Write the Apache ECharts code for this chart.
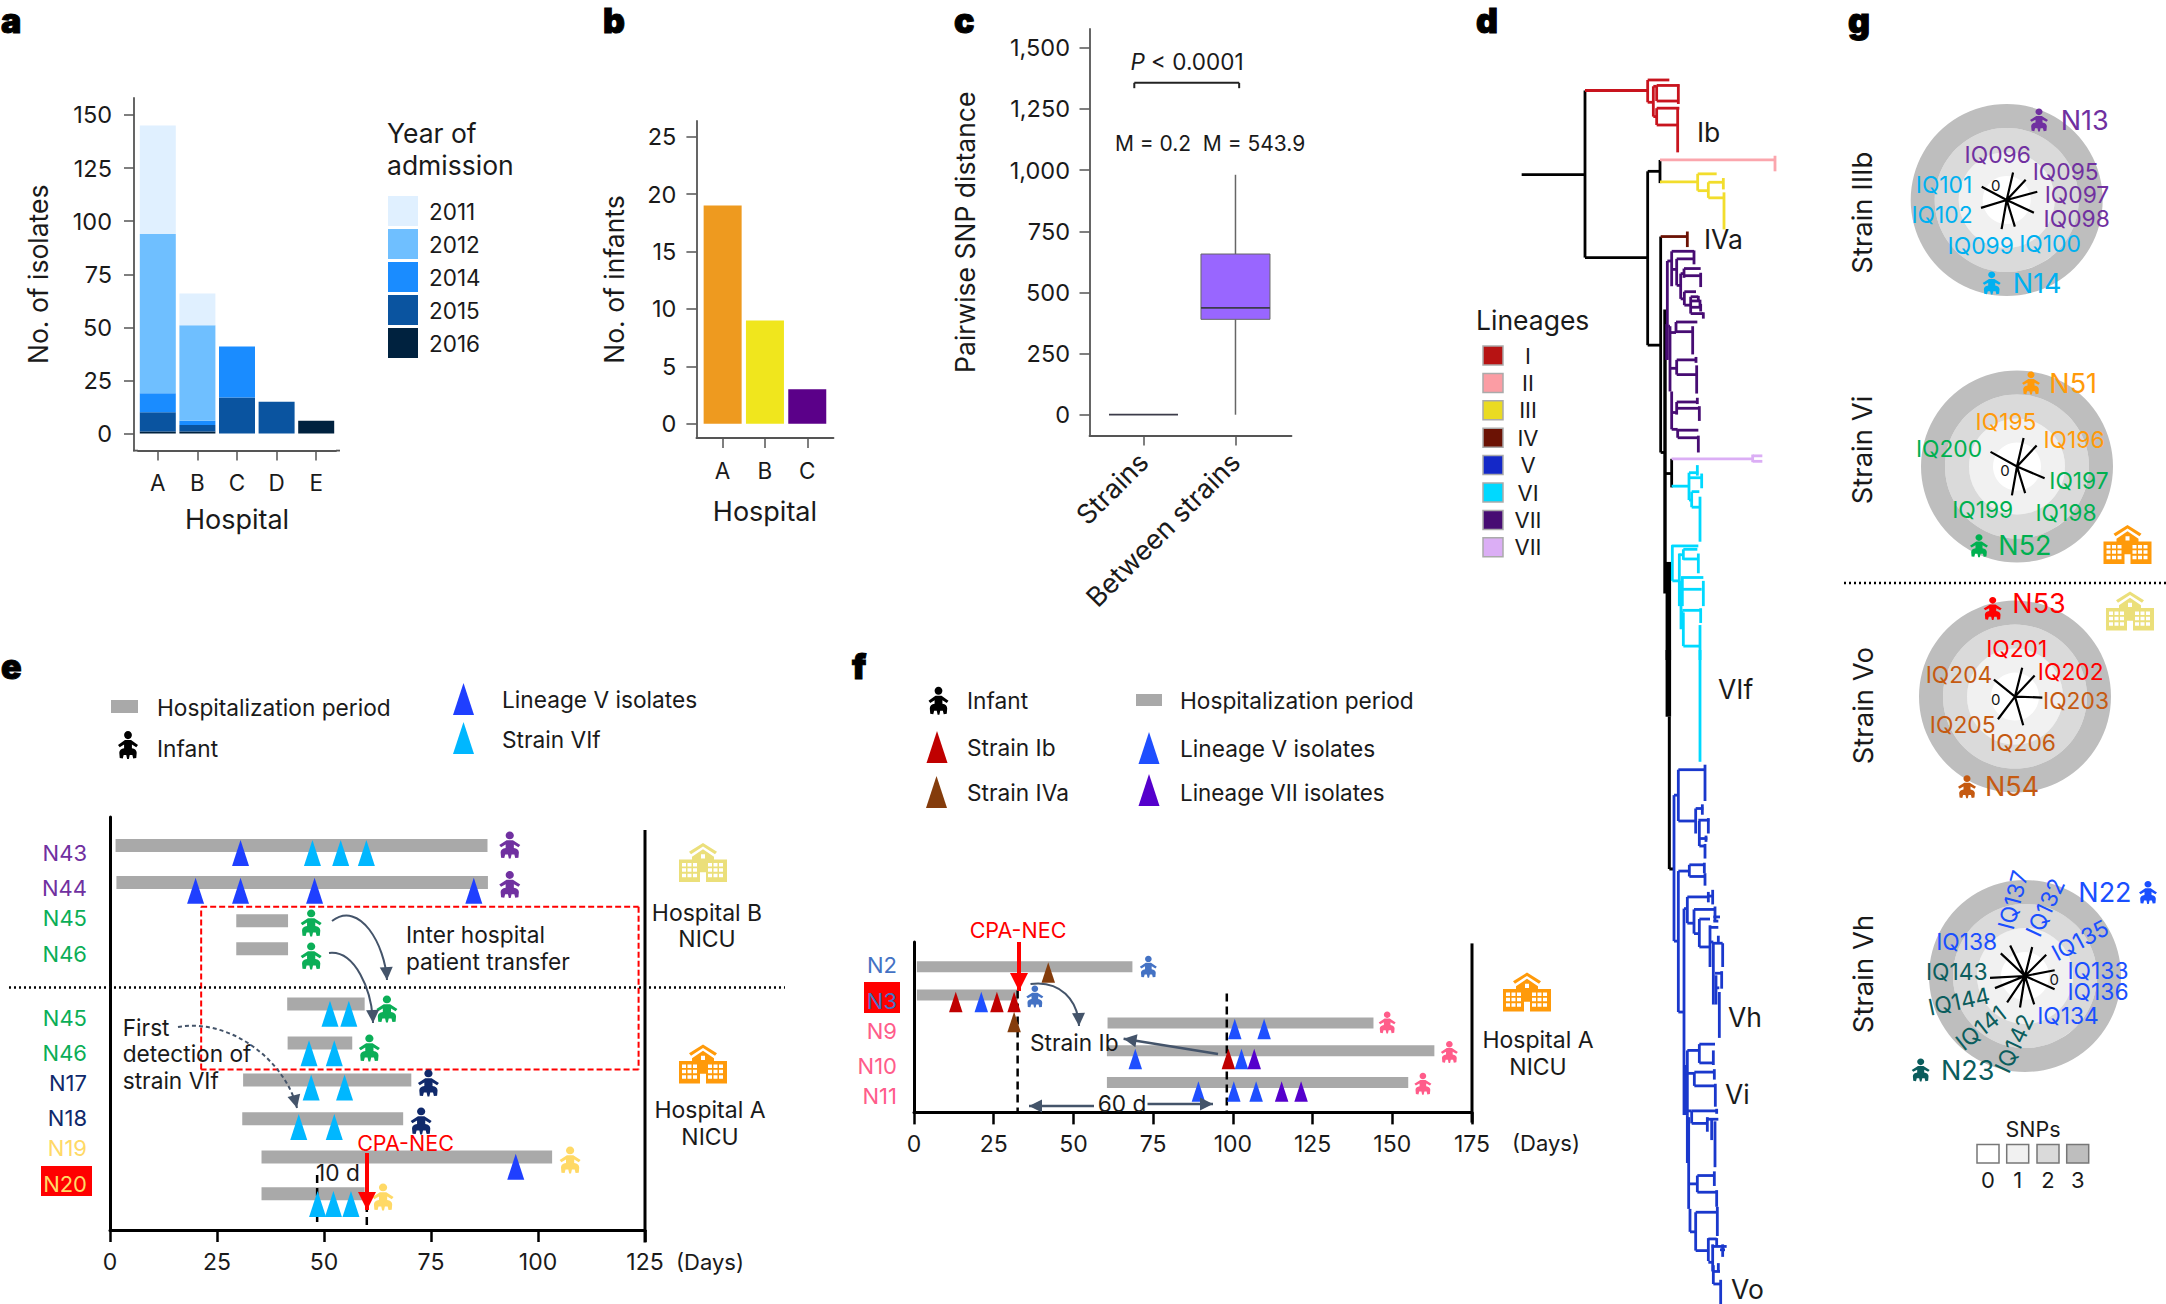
<!DOCTYPE html>
<html><head><meta charset="utf-8">
<style>html,body{margin:0;padding:0;background:#fff}#c{width:2166px;height:1304px}</style>
<script src="https://cdn.jsdelivr.net/npm/echarts@6/dist/echarts.min.js"></script>
</head><body><div id="c"></div>
<script>
// ---------- panel a ----------
const hospitalsA=['A','B','C','D','E'];
const years=['2011','2012','2014','2015','2016'];
const isolates2016=[1,1,0,0,6];
const isolates2015=[9,3,17,15,0];
const isolates2014=[9,2,24,0,0];
const isolates2012=[75,45,0,0,0];
const isolates2011=[51,15,0,0,0];
const ticksA=[0,25,50,75,100,125,150];
// ---------- panel b ----------
const hospitalsB=['A','B','C'];
const infantsB=[19,9,3];
const ticksB=[0,5,10,15,20,25];
// ---------- panel c ----------
const groupsC=['Strains','Between strains'];
const boxStrains=[0,0,0,0,0];       // min,q1,median,q3,max
const boxBetween=[0,390,437,657,981];
const ticksC=[0,250,500,750,1000,1250,1500];
// ---------- panel e ----------
const eDays=[0,25,50,75,100,125];
const eBars=[[1.3,88.2,384.6],[1.5,88.3,347.5],[29.5,41.6,309.2],[29.5,41.6,281.2],[41.4,59.5,226],[41.5,56.6,187],[31.1,70.4,150],[30.9,68.5,111.2],[35.4,103.3,73],[35.4,59.5,36.2]];
const eLineageV=[[30.5,377],[20,339.2],[30.5,339.2],[47.8,339.2],[85,339.2],[94.8,63.3]];
const eStrainVIf=[[47.3,377],[53.9,377],[59.9,377],[51.4,216.2],[55.8,216.2],[46.5,176.7],[52.4,176.7],[47,142.5],[54.8,142.5],[44.1,103],[52.4,103],[48.5,26],[52.2,26],[56.3,26]];
const eInfants=[[93.4,385,'#7030a0'],[93.4,345.4,'#7030a0'],[47,307,'#0bae57'],[47,274,'#0bae57'],[64.7,221,'#0bae57'],[60.6,182,'#0bae57'],[74.4,147,'#10296b'],[72.7,109,'#10296b'],[107.5,70,'#ffd966'],[63.8,33,'#ffd966']];
// ---------- panel f ----------
const fDays=[0,25,50,75,100,125,150,175];
const fBars=[[0.9,68.5,145.7],[0.9,32.6,117.4],[60.7,144.1,89.4],[60.5,163.2,61.7],[60.5,155,29.9]];
const fStrainIb=[[13.1,110.4],[26,110.4],[31.4,110.4],[98.6,53.4]];
const fStrainIVa=[[42.1,140],[31.4,90.4]];
const fLineageV=[[21.1,110.4],[100.6,83.4],[109.8,83.4],[69.4,53.4],[102.7,53.4],[89.2,20.9],[100.3,20.9],[107.3,20.9]];
const fLineageVII=[[106.7,53.4],[115.3,20.9],[121.4,20.9]];
const fInfants=[[73.5,145.7,'#4472c4'],[37.9,115.8,'#4472c4'],[148.4,89.9,'#ff5c8a'],[167.9,60.4,'#ff5c8a'],[159.6,28.6,'#ff5c8a']];
// ---------- panel d, branches [x1,y1,x2,y2] ----------
const treeRootUpper=[[215,415,405,415],[405,215,405,612],[405,612,593,612],[593,407,593,820],[593,407,630,407],[630,380,630,435],[593,820,632,820],[632,562,632,1075],[632,1075,645,1075],[645,1125,665,1125],[665,1090,665,1158]];
const treeTrunkThin=[[645,735,645,1410]];
const treeTrunkThickUpper=[[655,1335,655,1568]];
const treeI=[[405,215,593,215],[593,190,593,243],[593,190,658,190],[593,243,610,243],[610,205,610,277],[610,205,620,205],[620,203,620,240],[620,203,688,203],[620,240,685,240],[685,200,685,247],[610,277,620,277],[620,257,620,297],[620,257,688,257],[620,297,683,297],[683,255,683,362]];
const treeII=[[630,380,975,380],[975,370,975,407]];
const treeIII=[[630,432,743,432],[743,413,743,453],[743,413,800,413],[743,453,775,453],[775,433,775,470],[775,433,820,433],[820,423,820,450],[775,470,822,470],[822,457,822,545]];
const treeIV=[[632,562,712,562],[712,550,712,587]];
const treeVII=[[650,770,650,855],[652,620,652,855],[652,620,665,620],[665,597,665,680],[665,597,732,597],[732,595,732,628],[665,640,680,640],[680,615,680,678],[680,615,733,615],[680,678,692,678],[692,650,692,710],[692,650,702,650],[702,638,702,660],[702,638,752,638],[702,655,752,655],[752,648,752,682],[692,710,703,710],[703,693,703,725],[703,693,738,693],[703,725,722,725],[722,705,722,745],[722,705,745,705],[745,703,745,715],[722,715,750,715],[750,712,750,728],[722,730,752,730],[752,722,752,740],[722,745,760,745],[760,742,760,757],
[655,775,660,775],[660,775,660,930],[660,790,678,790],[678,765,678,790],[678,765,742,765],[678,788,728,788],[728,775,728,842],[660,875,680,875],[680,855,680,890],[680,855,738,855],[738,848,738,862],[680,890,740,890],[740,868,740,935],[665,930,665,1020],[665,980,680,980],[680,955,680,985],[680,955,742,955],[742,945,742,960],[680,970,748,970],[748,965,748,1000],[665,1020,683,1020],[683,1020,683,1040],[683,1022,745,1022],[683,1040,745,1040],[745,1035,745,1075]];
const treeVIIb=[[665,1090,910,1090],[908,1080,908,1098],[908,1083,937,1083],[908,1096,937,1096]];
const treeVIUpper=[[665,1155,717,1155],[717,1123,717,1188],[717,1123,745,1123],[742,1105,742,1130],[717,1135,755,1135],[755,1125,755,1160],[725,1168,725,1205],[717,1188,725,1188],[725,1168,748,1168],[725,1205,750,1205],[750,1180,750,1287],
[665,1297,745,1297],[667,1295,667,1380],[667,1380,688,1380],[688,1315,688,1440],[688,1318,700,1318],[700,1305,700,1330],[700,1305,742,1305],[700,1328,745,1328],[745,1315,745,1362],[693,1380,693,1495],[693,1372,760,1372],[697,1372,697,1440],[697,1400,755,1400],[760,1380,760,1440],[697,1450,755,1450],[752,1445,752,1480],[693,1455,700,1455],[700,1455,700,1535],[700,1535,748,1535],[750,1485,750,1568]];
const treeVILower=[[750,0,750,268]];
const treeTrunkThickLower=[[655,0,655,160]];
const treeTrunkLower=[[658,160,658,525],[658,525,672,525]];
const treeV=[[672,348,672,698],[672,348,685,348],[685,287,685,410],[685,287,765,287],[765,275,765,362],[685,410,737,410],[737,380,737,440],[737,380,760,380],[757,370,757,395],[745,408,778,408],[775,403,775,440],[748,410,748,470],[748,452,772,452],[768,445,768,460],[748,470,768,470],[765,465,765,500],
[672,698,685,698],[685,530,685,868],[685,530,718,530],[718,515,718,543],[718,515,765,515],[763,510,763,535],[718,543,765,543],[765,535,765,565],[685,868,702,868],[702,620,702,1115],[702,620,712,620],[712,592,712,655],[712,592,775,592],[775,580,775,605],[775,590,788,590],[788,575,788,610],[712,655,732,655],[732,622,732,680],[732,622,795,622],[795,615,795,650],[790,640,810,640],[790,650,805,650],[732,680,748,680],[748,645,748,712],[748,645,780,645],[780,660,780,760],[780,665,805,665],[805,685,805,700],[780,700,790,700],[790,700,790,850],[790,703,818,703],[818,703,818,760],[795,775,815,775],[815,770,815,812],[800,810,808,810],[808,820,808,930],[798,780,798,850],[748,712,780,712],
[712,960,712,1115],[708,995,708,1115],[712,960,748,960],[748,945,748,990],[748,945,795,945],[748,990,790,990],[790,960,790,995],[705,1015,733,1015],[733,1012,733,1045],[733,1012,795,1012],[793,1005,793,1030],[733,1045,795,1045],[796,1040,796,1095],[712,1115,712,1230],[712,1105,725,1105],[725,1105,800,1105],[800,1100,800,1112],[725,1105,725,1135],[725,1135,772,1135],[772,1120,772,1155],[772,1125,805,1125],[785,1125,785,1175],[795,1130,795,1240],[716,1120,716,1340],[716,1280,742,1280],[742,1260,742,1300],[742,1260,793,1260],[793,1250,793,1285],[742,1300,800,1300],[800,1295,800,1335],[720,1340,720,1395],[720,1395,737,1395],[737,1348,737,1440],[737,1348,802,1348],[802,1335,802,1405],[737,1440,775,1440],[775,1410,775,1465],[775,1412,800,1412],[800,1410,800,1430],[785,1430,830,1430],[788,1425,788,1490],[810,1438,825,1438],[818,1425,818,1455],[775,1468,788,1468],[790,1490,810,1490],[790,1475,790,1520],[790,1520,812,1520],[805,1470,805,1490],[812,1510,812,1568]];
const lineageNames=['I','II','III','IV','V','VI','VII','VII'];
const lineageColors=['#b71313','#fb9da4','#eadb22','#6b1204','#1428c8','#00d9ff','#470c73','#dbaef5'];
// ---------- panel g, spokes: angle (degrees) and length (SNPs) ----------
const ringIIIbAngles=[77,47,15,335,287,260,197,152];
const ringIIIbLengths=[1.18,1.16,1.32,1.25,1.16,1.23,1.12,1.18];
const ringViAngles=[77,47,337,287,260,151];
const ringViLengths=[1.22,1.2,1.25,1.16,1.22,1.26];
const ringVoAngles=[76,47,358,286,233,141];
const ringVoLengths=[1.24,1.2,1.14,1.24,1.18,1.13];
const ringVhAngles=[76,45,11,336,288,261,236,202,183,137,116];
const ringVhLengths=[1.24,1.25,1.26,1.35,1.24,1.33,1.33,1.35,1.46,1.38,1.41];
const snpLabels=['0','1','2','3'];
const snpColors=['#ffffff','#f1f1f1','#dadada','#bebebe'];

const FONT='Inter';
const INFANT='path://M12 .5C14.5 .5 16.5 2.5 16.5 5S14.5 9.5 12 9.5 7.5 7.5 7.5 5 9.5 .5 12 .5ZM8.5 10.5H15.5L23.5 16 21.5 18.5 16.5 15.5V19.5C20 20 22 22 22 24.5L21.5 30.5 18 31 17 27 14 27 13 31.5H11L10 27 7 27 6 31 2.5 30.5 2 24.5C2 22 4 20 7.5 19.5V15.5L2.5 18.5 .5 16Z';
function hospitalPath(){
  let d='M24 0L38 9 36 11.5 24 3.5 12 11.5 10 9ZM0 17H13V14L24 6.5 35 14V17H48V40H0Z';
  const holes=[];
  [3,8.5,34.5,40].forEach(x=>[20.5,26,31.5].forEach(y=>holes.push([x,y,4,3.5])));
  [14,29].forEach(x=>[20.5,26,31.5].forEach(y=>holes.push([x,y,4,3.5])));
  holes.push([21,30,6,10]);
  holes.forEach(h=>{d+='M'+h[0]+' '+h[1]+'V'+(h[1]+h[3])+'H'+(h[0]+h[2])+'V'+h[1]+'Z';});
  d+='M22 11.5V16H26V11.5Z';
  return 'path://'+d;
}
const HOSPITAL=hospitalPath();

const g=[];
function t(text,x,y,size,fill,align,rotDeg,weight,extra){
  g.push({type:'text',z:100,x:x,y:y,rotation:(rotDeg||0)*Math.PI/180,silent:true,
    style:Object.assign({text:text,fontSize:size,fontFamily:FONT,fontWeight:weight||'normal',fill:fill||'#1a1a1a',align:align||'left',verticalAlign:'middle'},extra||{})});
}
function rectG(x,y,w,h,fill,stroke){g.push({type:'rect',z:99,shape:{x:x,y:y,width:w,height:h},style:{fill:fill,stroke:stroke||null,lineWidth:stroke?1.5:0}});}
function head(x,y,ang,size,color){
  const a=ang,s=size,w=size*0.5;
  g.push({type:'polygon',z:101,shape:{points:[[x,y],[x-s*Math.cos(a)+w*Math.sin(a),y-s*Math.sin(a)-w*Math.cos(a)],[x-s*Math.cos(a)-w*Math.sin(a),y-s*Math.sin(a)+w*Math.cos(a)]]},style:{fill:color}});
}
function curve(x1,y1,c1x,c1y,c2x,c2y,x2,y2,color,dash){
  g.push({type:'bezierCurve',z:101,shape:{x1,y1,cpx1:c1x,cpy1:c1y,cpx2:c2x,cpy2:c2y,x2,y2},style:{stroke:color,lineWidth:2,lineDash:dash||null,fill:null}});
  head(x2,y2,Math.atan2(y2-c2y,x2-c2x),13,color);
}
function straight(x1,y1,x2,y2,color,w,hs){
  g.push({type:'line',z:101,shape:{x1,y1,x2,y2},style:{stroke:color,lineWidth:w}});
  head(x2,y2,Math.atan2(y2-y1,x2-x1),hs,color);
}

// panel letters
[['a',1,20],['b',603,20],['c',954,20],['d',1476,20],['e',1,666],['f',852,666],['g',1848,20]].forEach(p=>t(p[0],p[1],p[2],34,'#000','left',0,900,{stroke:'#000',lineWidth:1}));

// a legend title
t('Year of',387,133,26.5); t('admission',387,165,26.5);
// c annotations
g.push({type:'text',z:100,x:1187,y:61,style:{text:'{i|P} < 0.0001',fontSize:22.5,fontFamily:FONT,fill:'#1a1a1a',align:'center',verticalAlign:'middle',rich:{i:{fontStyle:'italic',fontSize:22.5,fontFamily:FONT,fill:'#1a1a1a'}}}});
t('M = 0.2',1153,143.7,21,null,'center'); t('M = 543.9',1254,143.7,21,null,'center');
// e annotations
const FS=22.7;
rectG(111,700,27,13,'#a9a9a9');
t('Hospitalization period',157,707.5,FS); t('Infant',157,748,FS);
t('Lineage V isolates',502,699,FS); t('Strain VIf',502,739,FS);
const ePurple='#7030a0',eGreen='#0bae57',eNavy='#10296b',eYellow='#ffd966';
[['N43',853,ePurple],['N44',887.5,ePurple],['N45',918,eGreen],['N46',954,eGreen],['N45',1018,eGreen],['N46',1053,eGreen],['N17',1083,eNavy],['N18',1118,eNavy],['N19',1148,eYellow]].forEach(r=>t(r[0],87,r[1],22,r[2],'right'));
rectG(41,1166,51,30,'#ff0000'); t('N20',87,1184,22,eYellow,'right');
t('Hospital B',707,912.5,23,null,'center'); t('NICU',707,939,23,null,'center');
t('Hospital A',710,1110,23,null,'center'); t('NICU',710,1137,23,null,'center');
t('Inter hospital',406,934,FS); t('patient transfer',406,961.7,FS);
t('First',122.7,1027,FS); t('detection of',122.7,1053,FS); t('strain VIf',122.7,1080,FS);
t('CPA-NEC',405.5,1143,21.5,'#ff0000','center');
t('10 d',338,1172,FS,null,'center');
t('(Days)',710,1262,22,null,'center');
curve(332,921,360,900,385,945,387,980,'#44546a');
curve(329,953,355,950,372,990,373,1023,'#44546a');
curve(178,1027,230,1018,285,1060,297,1108,'#44546a',[4,3]);
straight(367,1153,367,1210,'#ff0000',4,18);
// f annotations
t('Infant',967,700,FS); t('Hospitalization period',1180,700,FS);
rectG(1136,694,26,12,'#a9a9a9');
t('Strain Ib',967,747,FS); t('Lineage V isolates',1180,748,FS);
t('Strain IVa',967,792,FS); t('Lineage VII isolates',1180,792,22.4);
const fBlue='#4472c4',fPink='#ff5c8a';
rectG(864,982,36,31,'#ff0000');
[['N2',965,fBlue],['N3',1000.6,fBlue],['N9',1031.4,fPink],['N10',1065.6,fPink],['N11',1096,fPink]].forEach(r=>t(r[0],897,r[1],22,r[2],'right'));
t('CPA-NEC',1018,930,21.5,'#ff0000','center');
straight(1019,942,1019,991,'#ff0000',4,18);
curve(1030.5,984,1060,980,1078,1000,1079,1026,'#44546a');
t('Strain Ib',1030,1042,FS);
straight(1218,1054,1123.6,1038.7,'#44546a',2.5,13);
t('60 d',1122,1103,FS,null,'center');
straight(1094,1106,1029,1106,'#44546a',2.5,13);
straight(1147.5,1104,1213,1104,'#44546a',2.5,13);
t('Hospital A',1538,1040,23,null,'center'); t('NICU',1538,1067,23,null,'center');
t('(Days)',1546,1143,22,null,'center');
// d labels
[['Ib',1697,132],['IVa',1704,239],['VIf',1718,689],['Vh',1728,1017],['Vi',1725,1093.5],['Vo',1731,1289]].forEach(r=>t(r[0],r[1],r[2],26.5));
t('Lineages',1476,320,26.5);
lineageNames.forEach((n,i)=>{const y=346+i*27.4; rectG(1483,y,20,19,lineageColors[i],'#aaa'); t(n,1528,y+9.5,22,null,'center');});
// g labels
const cPur='#7030a0',cCyan='#00b0f0',cOr='#ff9a0a',cGr='#00b050',cRed='#ff0000',cBr='#c55a11',cBl='#1a4fff',cTe='#0b5d5d';
[['IQ096',1997.7,154.6,cPur],['IQ095',2065.7,171.5,cPur],['IQ097',2077,194.5,cPur],['IQ098',2076.7,218,cPur],['IQ101',1944,184,cCyan],['IQ102',1942,214,cCyan],['IQ099',1980.7,245,cCyan],['IQ100',2050,243.4,cCyan],
 ['IQ195',2006,421.7,cOr],['IQ196',2074,439.5,cOr],['IQ200',1949,448.8,cGr],['IQ197',2079,480,cGr],['IQ198',2066,512.4,cGr],['IQ199',1982.7,509.8,cGr],
 ['IQ201',2016.7,648,cRed],['IQ202',2070.7,671,cRed],['IQ203',2076,700.6,cBr],['IQ204',1959,674,cBr],['IQ205',1962.7,724.7,cBr],['IQ206',2023,742,cBr],
 ['IQ137',2012.7,900,cBl,75],['IQ132',2045,907.4,cBl,65],['IQ135',2080,940,cBl,28],['IQ133',2098,970,cBl],['IQ136',2098,991,cBl],['IQ134',2068,1015,cBl],['IQ138',1966.7,941.8,cBl],
 ['IQ143',1956.7,971.5,cTe],['IQ144',1959,1001,cTe,12],['IQ141',1980.7,1027.6,cTe,38],['IQ142',2014,1043.4,cTe,65]
].forEach(r=>t(r[0],r[1],r[2],22.8,r[3],'center',r[4]||0));
[['N13',2060.7,120,cPur],['N14',2012.7,283,cCyan],['N51',2049.3,383,cOr],['N52',1998.3,545,cGr],['N53',2012.3,603.7,cRed],['N54',1985,786.4,cBr],['N22',2078.3,892.4,cBl],['N23',1941,1070,cTe]].forEach(r=>t(r[0],r[1],r[2],27,r[3]));
[['Strain IIIb',1861.7,212.7],['Strain Vi',1862,450],['Strain Vo',1862.7,705.7],['Strain Vh',1862.7,974]].forEach(r=>t(r[0],r[1],r[2],27.5,null,'center',90));
[['0',1995.7,185],['0',2005,470.6],['0',1995.7,699.8],['0',2054.3,979.4]].forEach(r=>t(r[0],r[1],r[2],15,'#111','center'));
t('SNPs',2033,1129,21.5,null,'center');
snpLabels.forEach((s,i)=>{const x=[1977,2006.7,2037,2066.7][i]; rectG(x,1144.6,22,18.4,snpColors[i],'#777'); t(s,x+11,1180,22,null,'center');});

// ---------- helpers for series ----------
const AX='#555';
function segs(gridIdx,data,color,width,dash){
  return {type:'custom',xAxisIndex:gridIdx,yAxisIndex:gridIdx,data:data,clip:false,silent:true,
    encode:{x:[0,2],y:[1,3]},z:3,
    renderItem:(p,api)=>{const a=api.coord([api.value(0),api.value(1)]),b=api.coord([api.value(2),api.value(3)]);
      return {type:'line',shape:{x1:a[0],y1:a[1],x2:b[0],y2:b[1]},style:{stroke:color,lineWidth:width,lineDash:dash||null,fill:null}};}};
}
function periods(gridIdx,data,h){
  return {type:'custom',xAxisIndex:gridIdx,yAxisIndex:gridIdx,data:data,clip:false,silent:true,encode:{x:[0,1],y:2},z:2,
    renderItem:(p,api)=>{const a=api.coord([api.value(0),api.value(2)]),b=api.coord([api.value(1),api.value(2)]);
      return {type:'rect',shape:{x:a[0],y:a[1]-h/2,width:b[0]-a[0],height:h},style:{fill:'#a9a9a9'}};}};
}
function tris(gridIdx,data,color,size){
  return {type:'scatter',xAxisIndex:gridIdx,yAxisIndex:gridIdx,data:data,symbol:'triangle',symbolSize:size,clip:false,silent:true,z:4,itemStyle:{color:color,opacity:1}};
}
function babies(gridIdx,data,size){
  return {type:'scatter',xAxisIndex:gridIdx,yAxisIndex:gridIdx,clip:false,silent:true,z:4,symbol:INFANT,symbolSize:size,symbolKeepAspect:false,
    data:data.map(d=>({value:[d[0],d[1]],itemStyle:{color:d[2],opacity:1}}))};
}
function box(gridIdx,data,w){
  return {type:'custom',xAxisIndex:gridIdx,yAxisIndex:gridIdx,data:data,clip:false,silent:true,encode:{x:0,y:[1,2,3,4,5]},z:3,
    renderItem:(p,api)=>{
      const x=api.value(0),c=v=>api.coord([x,v]);
      const mn=c(api.value(1)),q1=c(api.value(2)),md=c(api.value(3)),q3=c(api.value(4)),mx=c(api.value(5));
      const cx=mn[0],ch=[];
      if(mx[1]!==q3[1]) ch.push({type:'line',shape:{x1:cx,y1:mx[1],x2:cx,y2:q3[1]},style:{stroke:'#666',lineWidth:1.5}});
      if(mn[1]!==q1[1]) ch.push({type:'line',shape:{x1:cx,y1:q1[1],x2:cx,y2:mn[1]},style:{stroke:'#666',lineWidth:1.5}});
      if(q1[1]!==q3[1]) ch.push({type:'rect',shape:{x:cx-w/2,y:q3[1],width:w,height:q1[1]-q3[1]},style:{fill:'#9966ff',stroke:'#666',lineWidth:1}});
      ch.push({type:'line',shape:{x1:cx-w/2,y1:md[1],x2:cx+w/2,y2:md[1]},style:{stroke:'#3c3c4a',lineWidth:1.8}});
      return {type:'group',children:ch};
    }};
}
function bound(x,y,w,h){return {left:x,top:y,width:w,height:h,containLabel:false};}
function chartXAxis(i,min,max,labels,margin,nameText,gap){
  const vals=labels.map((_,k)=>k);
  return {gridIndex:i,type:'value',min,max,position:'bottom',splitLine:{show:false},
    axisLine:{show:true,onZero:false,lineStyle:{color:AX,width:1.8}},
    axisTick:{show:true,length:10,customValues:vals,lineStyle:{color:AX,width:1.5}},
    axisLabel:{customValues:vals,formatter:v=>labels[v],margin,fontSize:22.5,fontFamily:FONT,color:'#1a1a1a',hideOverlap:false},
    name:nameText,nameLocation:'middle',nameGap:gap,nameMoveOverlap:false,nameTextStyle:{fontSize:27,fontFamily:FONT,color:'#1a1a1a'}};
}
function chartYAxis(i,min,max,ticks,nameText,gap,margin){
  return {gridIndex:i,type:'value',min,max,splitLine:{show:false},
    axisLine:{show:true,onZero:false,lineStyle:{color:AX,width:1.8}},
    axisTick:{show:true,length:10,customValues:ticks,lineStyle:{color:AX,width:1.5}},
    axisLabel:{customValues:ticks,margin,fontSize:23.5,fontFamily:FONT,color:'#1a1a1a'},
    name:nameText,nameLocation:'middle',nameGap:gap,nameMoveOverlap:false,nameRotate:90,nameTextStyle:{fontSize:26.5,fontFamily:FONT,color:'#1a1a1a'}};
}
function timeXAxis(i,max,ticks){
  return {gridIndex:i,type:'value',min:0,max,interval:25,splitLine:{show:false},
    axisLine:{show:true,onZero:false,lineStyle:{color:'#000',width:3}},
    axisTick:{show:true,length:12,lineStyle:{color:'#000',width:2.5}},
    axisLabel:{margin:20,fontSize:23,fontFamily:FONT,color:'#1a1a1a',showMaxLabel:true,showMinLabel:true}};
}
function timeYAxis(i,max){
  return {gridIndex:i,type:'value',min:0,max,splitLine:{show:false},axisLine:{show:true,onZero:false,lineStyle:{color:'#000',width:3}},axisTick:{show:false},axisLabel:{show:false}};
}
function hiddenAxes(i,xmax,ymax){
  return [{gridIndex:i,type:'value',min:0,max:xmax,show:false},{gridIndex:i,type:'value',min:0,max:ymax,inverse:true,show:false}];
}
const [d1x,d1y]=hiddenAxes(5,1020,1568),[d2x,d2y]=hiddenAxes(6,1020,1568),[ovx,ovy]=hiddenAxes(7,2166,1304);

const series=[];
// a stacked bars
const aSeries=[['2016',isolates2016,'#00223f'],['2015',isolates2015,'#0a54a0'],['2014',isolates2014,'#1a8cff'],['2012',isolates2012,'#6fbfff'],['2011',isolates2011,'#e0f0ff']];
aSeries.forEach(s=>series.push({type:'bar',name:s[0],xAxisIndex:0,yAxisIndex:0,stack:'isolates',barWidth:36,silent:true,
  itemStyle:{color:s[2]},data:s[1]}));
// b bars
series.push({type:'bar',xAxisIndex:1,yAxisIndex:1,barWidth:38,silent:true,
  data:infantsB.map((v,i)=>({value:[i,v],itemStyle:{color:['#ee9a1f','#f0e61d','#5b0089'][i]}}))});
// c box and bracket
series.push(box(2,[[0].concat(boxStrains),[1].concat(boxBetween)],69));
series.push(segs(2,[[-0.10,1335,-0.10,1357],[-0.10,1357,1.04,1357],[1.04,1357,1.04,1335]],'#222',2));
// e
series.push(periods(3,eBars,13));
series.push(tris(3,eLineageV,'#1f3fff',[17,26]));
series.push(tris(3,eStrainVIf,'#00b7ff',[17,26]));
series.push(babies(3,eInfants,[21,27]));
series.push(segs(3,[[125,400,125,-12.5]],'#000',3));
series.push(segs(3,[[21.3,323.3,123.5,323.3],[123.5,323.3,123.5,160.4],[123.5,160.4,21.3,160.4],[21.3,160.4,21.3,323.3]],'#ff0000',2,[6,3]));
series.push(segs(3,[[-23.6,242.5,157.7,242.5]],'#000',2.5,[2,3]));
series.push(segs(3,[[48.4,55,48.4,3],[60,26,60,3]],'#000',2.5,[8,5]));
// f
series.push(periods(4,fBars,11));
series.push(tris(4,fLineageV,'#1f4fff',[13.5,20.5]));
series.push(tris(4,fLineageVII,'#5500cc',[13.5,20.5]));
series.push(tris(4,fStrainIb,'#c00000',[13.5,20.5]));
series.push(tris(4,fStrainIVa,'#843c0c',[13.5,20.5]));
series.push(babies(4,fInfants,[17,22]));
series.push(segs(4,[[175,169,175,-10.2]],'#000',3));
series.push(segs(4,[[32.5,122,32.5,1],[98.1,119,98.1,1]],'#000',2.5,[8,5]));
// d tree
const TW=2.8;
series.push(segs(5,treeRootUpper,'#000',TW));
series.push(segs(5,treeTrunkThin,'#000',3.4));
series.push(segs(5,treeTrunkThickUpper,'#000',5.5));
series.push(segs(5,treeI,'#c8141e',TW));
series.push(segs(5,treeII,'#fba6ad',TW));
series.push(segs(5,treeIII,'#f2dd2c',TW));
series.push(segs(5,treeIV,'#6b1204',TW));
series.push(segs(5,treeVII,'#470c73',TW));
series.push(segs(5,treeVIIb,'#dbaef5',TW));
series.push(segs(5,treeVIUpper,'#00d9ff',TW));
series.push(segs(6,treeVILower,'#00d9ff',TW));
series.push(segs(6,treeTrunkThickLower,'#000',5.5));
series.push(segs(6,treeTrunkLower,'#000',3));
series.push(segs(6,treeV,'#1a38cc',TW));
// g spokes
[[ringIIIbAngles,ringIIIbLengths],[ringViAngles,ringViLengths],[ringVoAngles,ringVoLengths],[ringVhAngles,ringVhLengths]].forEach((r,i)=>{
  const pts=[];
  r[0].forEach((a,k)=>{pts.push([0,a],[r[1][k],a],[0,a]);});
  series.push({type:'line',coordinateSystem:'polar',polarIndex:i,data:pts,showSymbol:false,symbol:'none',silent:true,z:5,lineStyle:{color:'#000',width:2.2},animation:false});
});
// overlay: legend keys, icons, dotted rule, and the ends of panel a's category axis line
function icons(items,symbol,size){
  return {type:'scatter',xAxisIndex:7,yAxisIndex:7,clip:false,silent:true,z:6,symbol:symbol,symbolSize:size,
    data:items.map(d=>({value:[d[0],d[1]],itemStyle:{color:d[2],opacity:1}}))};
}
series.push(segs(7,[[133,450.6,138,450.6],[336,450.6,340,450.6]],AX,1.8));
series.push(icons([[128,745,'#000'],[938.5,700.7,'#000']],INFANT,[20,28]));
series.push(icons([[463.5,699,'#1f3fff'],[1149,748,'#1f4fff']],'triangle',[21,32]));
series.push(icons([[463.5,738,'#00b7ff'],[937,747,'#c00000'],[936.5,792,'#843c0c'],[1149,790,'#5500cc']],'triangle',[21,32]));
series.push(icons([[2039,120,cPur],[1991.7,283,cCyan],[2031,383,cOr],[1979,545.7,cGr],[1992.7,608.5,cRed],[1967,786.8,cBr],[2148,892.4,cBl],[1920.7,1070,cTe]],INFANT,[18,23]));
series.push(icons([[703,862.5,'#ebdf7a'],[703,1064,'#ff9a0a'],[1527,992,'#ff9a0a'],[2127.5,544.5,'#ff9a0a'],[2130,611,'#ebdf7a']],HOSPITAL,[48,39]));
series.push(segs(7,[[1844,583,2166,583]],'#000',2.5,[2,3]));

const polarCenters=[[2006.7,200],[2017,466.5],[2015,696.6],[2025,976]];
const axisACat={gridIndex:0,type:'category',data:hospitalsA,position:'bottom',
  axisLine:{show:true,onZero:false,lineStyle:{color:AX,width:1.8}},
  axisTick:{show:true,length:10,alignWithLabel:true,lineStyle:{color:AX,width:1.5}},
  axisLabel:{margin:20,fontSize:22.5,fontFamily:FONT,color:'#1a1a1a'},
  name:'Hospital',nameLocation:'middle',nameGap:55,nameMoveOverlap:false,nameTextStyle:{fontSize:27,fontFamily:FONT,color:'#1a1a1a'}};
const axisAVal=Object.assign(chartYAxis(0,-8,158,ticksA,'No. of isolates',83,22),{offset:4});
const option={
  animation:false,backgroundColor:'#fff',textStyle:{fontFamily:FONT},
  legend:[{data:years,orient:'vertical',left:383,top:191,itemWidth:30,itemHeight:30,itemGap:3,icon:'rect',selectedMode:false,
    textStyle:{fontSize:22.5,fontFamily:FONT,color:'#1a1a1a',padding:[0,0,0,6]}}],
  grid:[bound(138,98,198,352.6),bound(696.4,121,137.1,317),bound(1089.5,29,202,406.5),bound(110,817,535,413),bound(914,942,558,170.4),bound(1450,0,340,660),bound(1450,650,340,654),bound(0,0,2166,1304)],
  xAxis:[axisACat,chartXAxis(1,-0.62,2.62,hospitalsB,21,'Hospital',60),
    Object.assign(chartXAxis(2,-0.587,1.609,groupsC,10),{axisLabel:{customValues:[0,1],formatter:v=>groupsC[v],rotate:45,margin:22,fontSize:27,fontFamily:FONT,color:'#1a1a1a'}}),
    timeXAxis(3,125,eDays),timeXAxis(4,175,fDays),d1x,d2x,ovx],
  yAxis:[axisAVal,chartYAxis(1,-1.245,26.37,ticksB,'No. of infants',69,20),chartYAxis(2,-85,1577,ticksC,'Pairwise SNP distance',111.5,19.5),
    timeYAxis(3,413),timeYAxis(4,170.4),d1y,d2y,ovy],
  polar:polarCenters.map(c=>({center:c,radius:[0,96]})),
  radiusAxis:polarCenters.map((c,i)=>({polarIndex:i,min:0,max:4,interval:1,axisLine:{show:false},axisTick:{show:false},axisLabel:{show:false},splitLine:{show:false},
    splitArea:{show:true,areaStyle:{color:snpColors,opacity:1}}})),
  angleAxis:polarCenters.map((c,i)=>({polarIndex:i,min:0,max:360,startAngle:0,clockwise:false,axisLine:{show:false},axisTick:{show:false},axisLabel:{show:false},splitLine:{show:false}})),
  series:series,
  graphic:{elements:g}
};
const chart=echarts.init(document.getElementById('c'),null,{renderer:'svg',width:2166,height:1304});
chart.setOption(option);
</script></body></html>
